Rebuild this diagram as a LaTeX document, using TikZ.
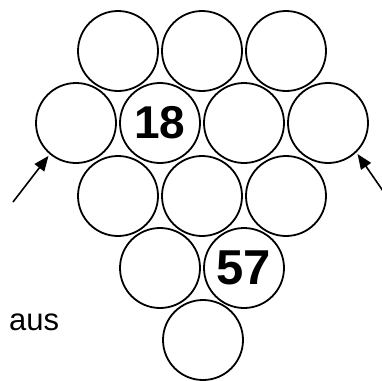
\documentclass[tikz,border=0pt]{standalone}
\usepackage{fontspec}
\setmainfont{Liberation Sans}
\usetikzlibrary{arrows.meta}

\begin{document}
\begin{tikzpicture}[x=1pt,y=-1pt,
    ball/.style={circle,draw,line width=1.8pt,minimum size=80pt,inner sep=0pt,
        font=\fontsize{46}{46}\selectfont\bfseries},
    pointer/.style={line width=1.6pt,shorten >=2pt,-{Triangle[length=15pt,width=12pt]}}]
    \useasboundingbox (0,0) rectangle (382,380);

    % Top row
    \node[ball] (b11) at (118,51) {};
    \node[ball] (b12) at (202,51) {};
    \node[ball] (b13) at (286,51) {};

    % Second row
    \node[ball] (b21) at (76,123) {};
    \node[ball] (b22) at (160,123) {18};
    \node[ball] (b23) at (244,123) {};
    \node[ball] (b24) at (328,123) {};

    % Third row
    \node[ball] (b31) at (118,196) {};
    \node[ball] (b32) at (202,196) {};
    \node[ball] (b33) at (286,196) {};

    % Fourth and fifth row
    \node[ball] (b41) at (160,268) {};
    \node[ball,font=\fontsize{49}{49}\selectfont\bfseries] (b42) at (244,268) {57};
    \node[ball] (b51) at (203,340) {};

    % Arrows into the outer balls
    \coordinate (inL) at (13,202);
    \coordinate (inR) at (392,204);
    \draw[pointer] (inL) -- (b21.230);
    \draw[pointer] (inR) -- (b24.314);

    % Label
    \node[anchor=base west,inner sep=0pt,font=\fontsize{31}{31}\selectfont] (aus) at (9,330) {aus};
\end{tikzpicture}
\end{document}
